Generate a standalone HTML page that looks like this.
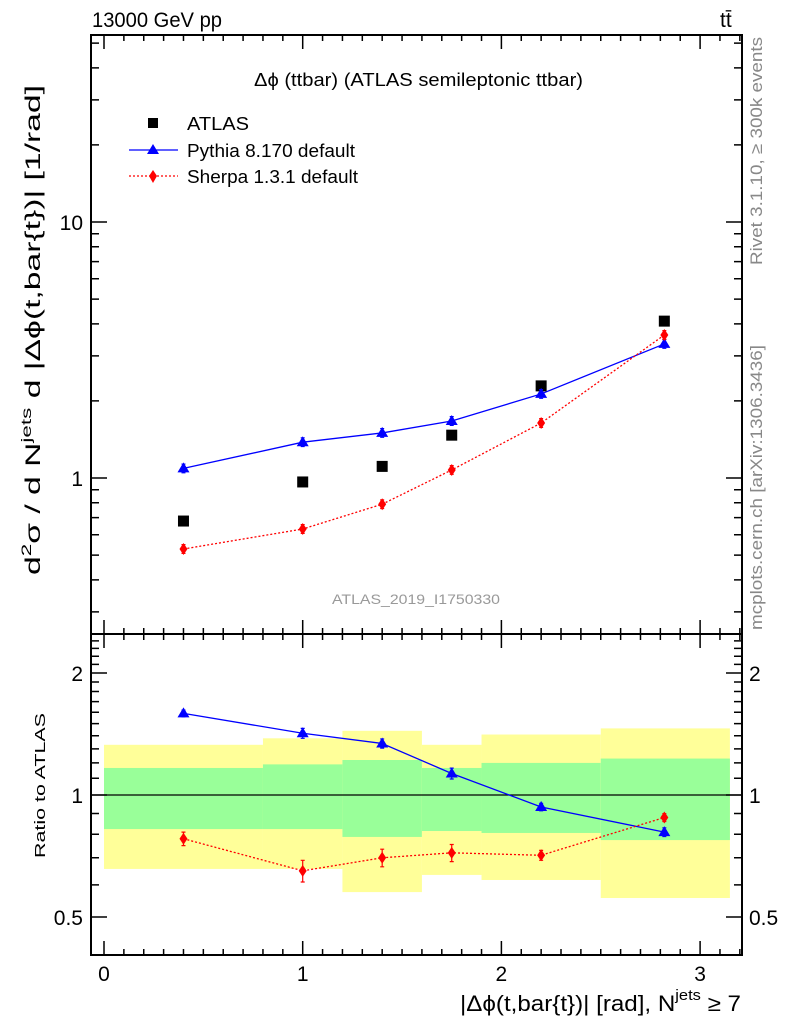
<!DOCTYPE html>
<html><head><meta charset="utf-8">
<style>
html,body{margin:0;padding:0;background:#fff;}
svg{display:block;font-family:"Liberation Sans",sans-serif;}
</style></head>
<body>
<svg id="chart" width="786" height="1024" viewBox="0 0 786 1024">
<g id="bands"></g>
<g id="marks"></g>
<g id="axes"></g>
<text x="92" y="27" font-size="21" textLength="130" lengthAdjust="spacingAndGlyphs">13000 GeV pp</text>
<text x="720" y="27" font-size="21">tt&#772;</text>
<text x="254" y="86" font-size="18" textLength="329" lengthAdjust="spacingAndGlyphs">Δϕ (ttbar) (ATLAS semileptonic ttbar)</text>
<g>
<rect x="148" y="118" width="10" height="10" fill="#000"/>
<text x="187" y="130" font-size="18" textLength="62" lengthAdjust="spacingAndGlyphs">ATLAS</text>
<line x1="129" y1="150" x2="178" y2="150" stroke="#00f" stroke-width="1.3"/>
<polygon points="153,144 147,154 159,154" fill="#00f"/>
<text x="187" y="157" font-size="18" textLength="168" lengthAdjust="spacingAndGlyphs">Pythia 8.170 default</text>
<line x1="129" y1="176" x2="178" y2="176" stroke="#f00" stroke-width="1.3" stroke-dasharray="2,2"/>
<polygon points="153,170 157,176 153,183 149,176" fill="#f00"/>
<text x="187" y="183" font-size="18" textLength="171" lengthAdjust="spacingAndGlyphs">Sherpa 1.3.1 default</text>
</g>
<text x="332" y="604" font-size="14" fill="#999" textLength="168" lengthAdjust="spacingAndGlyphs">ATLAS_2019_I1750330</text>
<text transform="translate(762,265) rotate(-90)" font-size="17" fill="#888" textLength="228" lengthAdjust="spacingAndGlyphs">Rivet 3.1.10, ≥ 300k events</text>
<text transform="translate(762,630) rotate(-90)" font-size="17" fill="#888" textLength="285" lengthAdjust="spacingAndGlyphs">mcplots.cern.ch [arXiv:1306.3436]</text>
<text transform="translate(40,575) rotate(-90)" font-size="21" textLength="490" lengthAdjust="spacingAndGlyphs">d<tspan font-size="14" dy="-9">2</tspan><tspan dy="9">σ  /  d N</tspan><tspan font-size="14" dy="-9">jets</tspan><tspan dy="9"> d |Δϕ(t,bar{t})| [1/rad]</tspan></text>
<text transform="translate(45,858) rotate(-90)" font-size="15" textLength="145" lengthAdjust="spacingAndGlyphs">Ratio to ATLAS</text>
<text x="460" y="1011" font-size="22" textLength="281" lengthAdjust="spacingAndGlyphs">|Δϕ(t,bar{t})| [rad], N<tspan font-size="15" dy="-11">jets</tspan><tspan dy="11"> ≥ 7</tspan></text>
</svg>
<script>
const xs = [0.4, 1.0, 1.4, 1.75, 2.2, 2.82];
const atlas = [0.679, 0.965, 1.11, 1.47, 2.29, 4.1];
const pythia = [1.09, 1.38, 1.50, 1.67, 2.13, 3.34];
const sherpa = [0.528, 0.632, 0.79, 1.075, 1.64, 3.62];
const pythiaRatio = [1.59, 1.42, 1.34, 1.13, 0.934, 0.81];
const sherpaRatio = [0.78, 0.65, 0.70, 0.72, 0.71, 0.88];
const binEdges = [0, 0.8, 1.2, 1.6, 1.9, 2.5, 3.15];
const yellowUp = [1.33, 1.38, 1.44, 1.33, 1.41, 1.46];
const yellowDn = [0.657, 0.657, 0.576, 0.635, 0.617, 0.557];
const greenUp = [1.166, 1.19, 1.22, 1.166, 1.20, 1.23];
const greenDn = [0.824, 0.824, 0.788, 0.815, 0.806, 0.774];
const ratioErr = [0.03, 0.04, 0.035, 0.035, 0.02, 0.02];
const ratioTicks = [0.5, 1, 2];

const NS = "http://www.w3.org/2000/svg";
const L = 91, R = 742, T = 35, MB = 634, RB = 955;
const X = v => 104 + v * 198.7;
const Y = v => 478 - 256 * Math.log10(v);
const YR = v => 795 - 122 * Math.log2(v);
function mk(parent, tag, attrs) {
  const e = document.createElementNS(NS, tag);
  for (const k in attrs) e.setAttribute(k, attrs[k]);
  document.getElementById(parent).appendChild(e);
  return e;
}
for (let i = 0; i < yellowUp.length; i++) {
  const y = mk('bands', 'rect', {x: X(binEdges[i]), y: YR(yellowUp[i]), width: X(binEdges[i+1]) - X(binEdges[i]), height: YR(yellowDn[i]) - YR(yellowUp[i]), fill: '#ffff99'});
  
  
  const g = mk('bands', 'rect', {x: X(binEdges[i]), y: YR(greenUp[i]), width: X(binEdges[i+1]) - X(binEdges[i]), height: YR(greenDn[i]) - YR(greenUp[i]), fill: '#99ff99'});
  
  
}
const one = mk('bands', 'line', {x1: L, x2: R, y1: YR(1), y2: YR(1), stroke: '#000', 'stroke-width': 1.2});



function line(vals, fy, color, dash, name) {
  const p = mk('marks', 'polyline', {points: vals.map((v, i) => X(xs[i]) + ',' + fy(v)).join(' '), fill: 'none', stroke: color, 'stroke-width': 1.3, 'stroke-dasharray': dash});
  
  
}
function tri(x, y, name) {
  const p = mk('marks', 'polygon', {points: `${x},${y-6} ${x-6},${y+4} ${x+6},${y+4}`, fill: '#00f'});
  
  
}
function dia(x, y, name) {
  const p = mk('marks', 'polygon', {points: `${x},${y-6} ${x+4},${y} ${x},${y+6} ${x-4},${y}`, fill: '#f00'});
  
  
}
function err(x, y1, y2, color) {
  const e = mk('marks', 'path', {d: `M${x},${y1}V${y2}M${x-2},${y1}H${x+2}M${x-2},${y2}H${x+2}`, stroke: color, 'stroke-width': 1.2});
  
  
}
line(pythia, Y, '#00f', 'none', 'pythia-line');
line(sherpa, Y, '#f00', '2,2', 'sherpa-line');
line(pythiaRatio, YR, '#00f', 'none', 'pythia-ratio-line');
line(sherpaRatio, YR, '#f00', '2,2', 'sherpa-ratio-line');
xs.forEach((x, i) => {
  const px = X(x);
  const a = mk('marks', 'rect', {x: px - 5.5, y: Y(atlas[i]) - 5.5, width: 11, height: 11, fill: '#000'});
  
  
  err(px, Y(pythia[i] * 1.04), Y(pythia[i] / 1.04), '#00f');
  tri(px, Y(pythia[i]), 'pythia-point');
  err(px, Y(sherpa[i] * 1.04), Y(sherpa[i] / 1.04), '#f00');
  dia(px, Y(sherpa[i]), 'sherpa-point');
  err(px, YR(pythiaRatio[i] + ratioErr[i]), YR(pythiaRatio[i] - ratioErr[i]), '#00f');
  tri(px, YR(pythiaRatio[i]), 'pythia-ratio-point');
  err(px, YR(sherpaRatio[i] + ratioErr[i]), YR(sherpaRatio[i] - ratioErr[i]), '#f00');
  dia(px, YR(sherpaRatio[i]), 'sherpa-ratio-point');
});

[[T, MB], [MB, RB]].forEach(([t, b]) => {
  const f = mk('axes', 'rect', {x: L, y: t, width: R - L, height: b - t, fill: 'none', stroke: '#000', 'stroke-width': 2});
  
  
});
let d = '';
for (let k = 0; k <= 32; k++) {
  const v = k / 10, px = X(v);
  if (px < L || px > R) continue;
  const len = k % 10 === 0 ? 14 : 6;
  d += `M${px},${T}v${len}M${px},${MB}v${-len}M${px},${MB}v${len}M${px},${RB}v${-len}`;
}
for (let e = -1; e <= 1; e++) for (let m = 1; m <= 9; m++) {
  const v = m * Math.pow(10, e), py = Y(v);
  if (py < T || py > MB) continue;
  const len = m === 1 ? 16 : 8;
  d += `M${L},${py}h${len}M${R},${py}h${-len}`;
}
for (let k = 4; k <= 24; k++) {
  const v = k / 10, py = YR(v);
  if (py < MB || py > RB) continue;
  const len = (k === 5 || k === 10 || k === 20) ? 16 : 8;
  d += `M${L},${py}h${len}M${R},${py}h${-len}`;
}
const tk = mk('axes', 'path', {d: d, stroke: '#000', 'stroke-width': 1.5, fill: 'none'});


function txt(x, y, s, anchor, name) {
  const t = mk('axes', 'text', {x: x, y: y, 'font-size': 21, 'text-anchor': anchor});
  t.textContent = s;
  
  
}
[0, 1, 2, 3].forEach(v => txt(X(v), 981, String(v), 'middle', 'x-tick-label'));
[1, 10].forEach(v => txt(83, Y(v) + 8, String(v), 'end', 'y-tick-label'));
ratioTicks.forEach(v => {
  txt(83, YR(v) + 8, String(v), 'end', 'ratio-y-tick-label');
  txt(749, YR(v) + 8, String(v), 'start', 'ratio-y-tick-label-right');
});
</script>
</body></html>
